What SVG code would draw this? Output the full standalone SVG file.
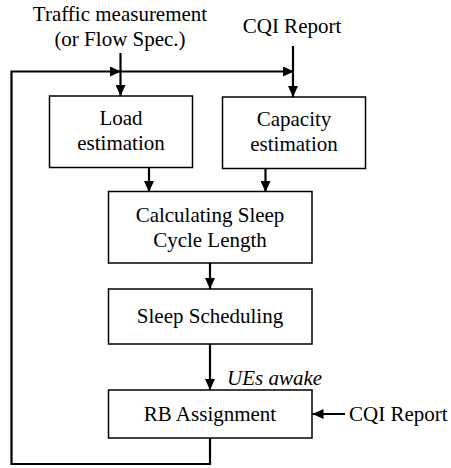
<svg xmlns="http://www.w3.org/2000/svg" width="451" height="468" viewBox="0 0 451 468" font-family="'Liberation Serif', 'DejaVu Serif', serif">
  <style>
    .box { fill: #ffffff; stroke: #000000; stroke-width: 1.5; }
    text { font-family: 'Liberation Serif', 'DejaVu Serif', serif; font-size: 21px; fill: #000000; }
    .mid { text-anchor: middle; }
    .em { font-style: italic; }
    .wire { fill: none; stroke: #000000; stroke-width: 2.2; }
  </style>
  <defs>
    <marker id="head" markerUnits="userSpaceOnUse" markerWidth="12" markerHeight="10" refX="11" refY="5" orient="auto">
      <path d="M0,0 L11,5 L0,10 Z" fill="#000000"/>
    </marker>
  </defs>

  <rect width="451" height="468" fill="#ffffff"/>

  <!-- input labels -->
  <g id="traffic-input">
    <text class="mid" x="120" y="21">Traffic measurement</text>
    <text class="mid" x="120" y="46">(or Flow Spec.)</text>
  </g>
  <g id="cqi-input-top">
    <text class="mid" x="292" y="33">CQI Report</text>
  </g>
  <g id="cqi-input-right">
    <text x="349" y="421">CQI Report</text>
  </g>

  <!-- connectors -->
  <g id="connectors">
    <!-- feedback loop from RB Assignment back to the top bus -->
    <path class="wire" d="M210,438 V464 H11.5 V71.5 H121" marker-end="url(#head)"/>
    <path class="wire" d="M120,71.5 H294" marker-end="url(#head)"/>
    <!-- inputs down into the estimators -->
    <path class="wire" d="M120.5,53 V96" marker-end="url(#head)"/>
    <path class="wire" d="M293,46 V97" marker-end="url(#head)"/>
    <!-- estimators into the sleep cycle calculation -->
    <path class="wire" d="M149,168 V192" marker-end="url(#head)"/>
    <path class="wire" d="M265.5,168 V192" marker-end="url(#head)"/>
    <!-- main chain -->
    <path class="wire" d="M210,263 V289" marker-end="url(#head)"/>
    <path class="wire" d="M210,344 V390" marker-end="url(#head)"/>
    <!-- CQI report into RB assignment -->
    <path class="wire" d="M345,414 H312.5" marker-end="url(#head)"/>
    <text class="em" x="227" y="385">UEs awake</text>
  </g>

  <!-- nodes -->
  <g id="load-estimation">
    <rect class="box" x="49.5" y="96" width="143" height="71.5"/>
    <text class="mid" x="121" y="125">Load</text>
    <text class="mid" x="121" y="150">estimation</text>
  </g>
  <g id="capacity-estimation">
    <rect class="box" x="222.5" y="97" width="143" height="71.5"/>
    <text class="mid" x="294" y="126">Capacity</text>
    <text class="mid" x="294" y="151">estimation</text>
  </g>
  <g id="sleep-cycle">
    <rect class="box" x="108.5" y="191.5" width="203.5" height="71.5"/>
    <text class="mid" x="210" y="222">Calculating Sleep</text>
    <text class="mid" x="210" y="247">Cycle Length</text>
  </g>
  <g id="sleep-scheduling">
    <rect class="box" x="108.5" y="289" width="203.5" height="55"/>
    <text class="mid" x="210" y="323">Sleep Scheduling</text>
  </g>
  <g id="rb-assignment">
    <rect class="box" x="108.5" y="390" width="203.5" height="48"/>
    <text class="mid" x="210" y="421">RB Assignment</text>
  </g>
</svg>
